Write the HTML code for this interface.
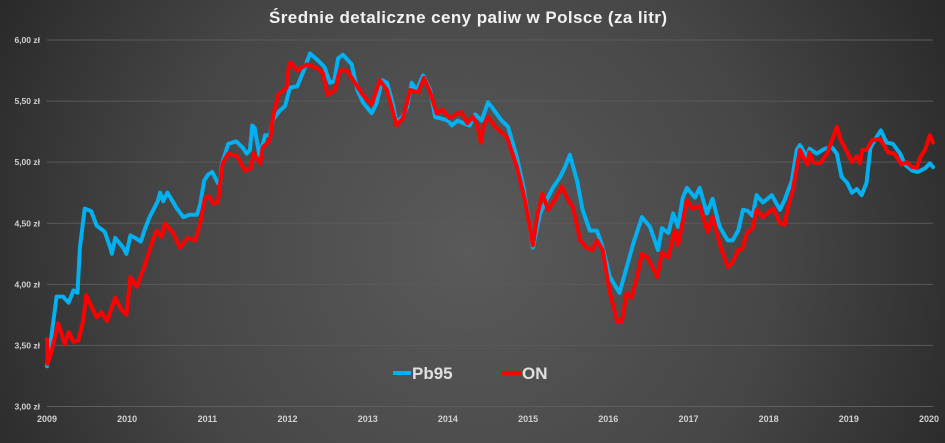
<!DOCTYPE html>
<html><head><meta charset="utf-8"><style>
html,body{margin:0;padding:0;background:#2a2a2a;}
svg{display:block;font-family:"Liberation Sans",sans-serif;}
</style></head><body>
<svg id="chart" width="945" height="443" viewBox="0 0 945 443" xmlns="http://www.w3.org/2000/svg">
<defs>
<radialGradient id="bg" cx="470" cy="250" r="560" gradientUnits="userSpaceOnUse">
<stop offset="0" stop-color="#5a5a5a"/><stop offset="0.55" stop-color="#464646"/><stop offset="1" stop-color="#262626"/>
</radialGradient>
</defs>
<rect x="0" y="0" width="945" height="443" fill="url(#bg)"/>
<text x="468" y="23" text-anchor="middle" fill="#f2f2f2" font-size="17" font-weight="bold" textLength="398" lengthAdjust="spacing">Średnie detaliczne ceny paliw w Polsce (za litr)</text>
<g id="grid"></g>
<g id="yaxis"></g>
<g id="xaxis"></g>
<g id="series"></g>
<g>
<line x1="393" y1="373" x2="411" y2="373" stroke="#00b0f0" stroke-width="4"/>
<text x="412" y="379" fill="#e0e0e0" font-size="17" font-weight="bold">Pb95</text>
<line x1="502" y1="373" x2="521" y2="373" stroke="#ff0000" stroke-width="4"/>
<text x="522" y="379" fill="#e0e0e0" font-size="17" font-weight="bold">ON</text>
</g>
</svg>
<script>
const yTicks = [3.0, 3.5, 4.0, 4.5, 5.0, 5.5, 6.0];
const yTickLabels = ["3,00 zł","3,50 zł","4,00 zł","4,50 zł","5,00 zł","5,50 zł","6,00 zł"];
const xTicks = [2009,2010,2011,2012,2013,2014,2015,2016,2017,2018,2019,2020];
const pbYears = [2009.0,2009.05,2009.12,2009.2,2009.27,2009.33,2009.38,2009.41,2009.47,2009.55,2009.62,2009.72,2009.79,2009.81,2009.85,2009.95,2009.99,2010.04,2010.1,2010.17,2010.22,2010.28,2010.38,2010.41,2010.45,2010.5,2010.53,2010.62,2010.7,2010.78,2010.87,2010.91,2010.96,2011.01,2011.06,2011.13,2011.16,2011.18,2011.26,2011.36,2011.44,2011.49,2011.53,2011.56,2011.59,2011.65,2011.72,2011.78,2011.82,2011.9,2011.97,2012.03,2012.12,2012.19,2012.28,2012.4,2012.46,2012.53,2012.58,2012.63,2012.69,2012.8,2012.87,2012.94,2013.05,2013.11,2013.18,2013.24,2013.3,2013.36,2013.43,2013.49,2013.55,2013.61,2013.69,2013.78,2013.84,2013.9,2014.0,2014.05,2014.12,2014.19,2014.27,2014.34,2014.42,2014.5,2014.56,2014.67,2014.75,2014.86,2014.94,2015.02,2015.06,2015.15,2015.23,2015.31,2015.4,2015.46,2015.52,2015.61,2015.68,2015.77,2015.86,2015.93,2016.02,2016.14,2016.23,2016.31,2016.42,2016.52,2016.62,2016.67,2016.75,2016.81,2016.87,2016.93,2016.98,2017.08,2017.14,2017.23,2017.3,2017.39,2017.49,2017.55,2017.62,2017.68,2017.74,2017.8,2017.85,2017.93,2018.04,2018.14,2018.2,2018.29,2018.35,2018.39,2018.48,2018.51,2018.6,2018.7,2018.79,2018.85,2018.91,2018.98,2019.04,2019.1,2019.16,2019.22,2019.27,2019.35,2019.4,2019.47,2019.55,2019.64,2019.7,2019.79,2019.86,2019.95,2020.01,2020.05];
const pbValues = [3.33,3.55,3.90,3.90,3.85,3.95,3.93,4.30,4.62,4.60,4.48,4.43,4.30,4.25,4.38,4.30,4.25,4.40,4.38,4.35,4.45,4.55,4.68,4.75,4.68,4.75,4.72,4.62,4.55,4.57,4.57,4.65,4.85,4.90,4.92,4.83,4.82,4.98,5.15,5.17,5.12,5.07,5.10,5.30,5.28,5.05,5.22,5.22,5.35,5.42,5.46,5.61,5.62,5.73,5.89,5.82,5.78,5.65,5.66,5.85,5.88,5.80,5.59,5.49,5.40,5.48,5.67,5.65,5.51,5.33,5.37,5.45,5.65,5.59,5.71,5.59,5.37,5.36,5.34,5.30,5.34,5.32,5.30,5.39,5.34,5.49,5.44,5.34,5.29,5.04,4.80,4.47,4.30,4.58,4.69,4.79,4.88,4.96,5.06,4.85,4.61,4.44,4.44,4.30,4.06,3.93,4.14,4.33,4.55,4.47,4.28,4.46,4.42,4.58,4.47,4.71,4.79,4.71,4.79,4.58,4.70,4.47,4.36,4.36,4.44,4.61,4.60,4.56,4.73,4.67,4.73,4.61,4.69,4.85,5.10,5.14,5.04,5.11,5.07,5.11,5.12,5.07,4.88,4.83,4.75,4.78,4.73,4.83,5.12,5.21,5.26,5.16,5.15,5.07,4.98,4.93,4.92,4.95,4.99,4.96];
const onYears = [2009.0,2009.01,2009.06,2009.14,2009.22,2009.27,2009.33,2009.39,2009.45,2009.49,2009.56,2009.62,2009.68,2009.75,2009.85,2009.93,2009.99,2010.04,2010.12,2010.2,2010.32,2010.37,2010.43,2010.47,2010.57,2010.66,2010.75,2010.85,2010.91,2010.97,2011.02,2011.07,2011.13,2011.19,2011.26,2011.37,2011.47,2011.54,2011.58,2011.66,2011.69,2011.78,2011.82,2011.88,2011.99,2012.02,2012.05,2012.12,2012.24,2012.37,2012.44,2012.5,2012.59,2012.65,2012.74,2012.84,2012.94,2013.05,2013.15,2013.24,2013.36,2013.44,2013.53,2013.63,2013.7,2013.78,2013.86,2013.93,2014.02,2014.1,2014.17,2014.24,2014.31,2014.37,2014.41,2014.44,2014.5,2014.59,2014.74,2014.86,2014.96,2015.06,2015.12,2015.18,2015.25,2015.33,2015.42,2015.5,2015.56,2015.65,2015.73,2015.8,2015.86,2015.93,2016.02,2016.11,2016.17,2016.23,2016.29,2016.36,2016.42,2016.49,2016.61,2016.67,2016.75,2016.83,2016.87,2016.98,2017.05,2017.14,2017.24,2017.3,2017.39,2017.49,2017.55,2017.62,2017.67,2017.73,2017.8,2017.85,2017.93,2018.02,2018.06,2018.14,2018.2,2018.24,2018.3,2018.39,2018.48,2018.51,2018.55,2018.64,2018.73,2018.79,2018.85,2018.9,2018.95,2019.04,2019.1,2019.14,2019.17,2019.22,2019.29,2019.39,2019.49,2019.57,2019.66,2019.72,2019.79,2019.85,2019.89,2019.95,2020.01,2020.05];
const onValues = [3.55,3.35,3.46,3.68,3.51,3.61,3.53,3.54,3.70,3.91,3.81,3.73,3.77,3.70,3.89,3.79,3.75,4.06,3.98,4.12,4.36,4.44,4.39,4.50,4.42,4.30,4.38,4.36,4.50,4.71,4.72,4.66,4.67,4.99,5.07,5.05,4.93,4.95,5.07,4.99,5.12,5.18,5.37,5.55,5.61,5.81,5.81,5.75,5.80,5.77,5.73,5.55,5.59,5.75,5.75,5.65,5.55,5.47,5.67,5.59,5.30,5.36,5.59,5.57,5.69,5.57,5.40,5.43,5.36,5.39,5.41,5.32,5.37,5.30,5.16,5.29,5.37,5.29,5.20,4.96,4.69,4.32,4.58,4.74,4.61,4.69,4.80,4.69,4.63,4.36,4.30,4.28,4.36,4.28,3.93,3.70,3.70,3.93,3.89,4.06,4.25,4.22,4.06,4.26,4.22,4.44,4.32,4.69,4.62,4.64,4.43,4.55,4.33,4.14,4.18,4.28,4.29,4.42,4.46,4.61,4.55,4.60,4.62,4.50,4.49,4.63,4.77,5.10,4.98,5.08,5.00,4.99,5.07,5.18,5.29,5.18,5.12,5.00,5.05,4.99,5.10,5.10,5.18,5.19,5.08,5.07,4.98,5.00,4.96,4.96,5.04,5.10,5.22,5.16];

const X0 = 47, X1 = 929, Y0 = 406.5, Y1 = 40;
function xScale(yr){ return X0 + (yr - 2009) / (2020 - 2009) * (X1 - X0); }
function yScale(v){ return Y0 - (v - 3) / (6 - 3) * (Y0 - Y1); }
const NS = "http://www.w3.org/2000/svg";
const grid = document.getElementById('grid');
const yaxis = document.getElementById('yaxis');
const xaxis = document.getElementById('xaxis');
const series = document.getElementById('series');

yTicks.forEach((t, i) => {
  const y = yScale(t);
  const ln = document.createElementNS(NS, 'line');
  
  
  ln.setAttribute('x1', X0); ln.setAttribute('x2', 933);
  ln.setAttribute('y1', y); ln.setAttribute('y2', y);
  ln.setAttribute('stroke', i === 0 ? '#5e5e5e' : '#5a5a5a');
  ln.setAttribute('stroke-width', '1');
  grid.appendChild(ln);
  const tx = document.createElementNS(NS, 'text');
  
  
  tx.setAttribute('x', 40); tx.setAttribute('y', y + 3);
  tx.setAttribute('text-anchor', 'end');
  tx.setAttribute('fill', '#d0d0d0');
  tx.setAttribute('font-size', '8.5');
  tx.setAttribute('font-weight', 'bold');
  tx.textContent = yTickLabels[i];
  yaxis.appendChild(tx);
});
xTicks.forEach(t => {
  const tx = document.createElementNS(NS, 'text');
  
  
  tx.setAttribute('x', xScale(t)); tx.setAttribute('y', 422);
  tx.setAttribute('text-anchor', 'middle');
  tx.setAttribute('fill', '#d0d0d0');
  tx.setAttribute('font-size', '9');
  tx.setAttribute('font-weight', 'bold');
  tx.textContent = String(t);
  xaxis.appendChild(tx);
});
function drawLine(years, vals, color, name){
  const d = years.map((yr, i) => (i ? 'L' : 'M') + xScale(yr).toFixed(1) + ' ' + yScale(vals[i]).toFixed(1)).join(' ');
  const p = document.createElementNS(NS, 'path');
  
  
  p.setAttribute('d', d);
  p.setAttribute('fill', 'none');
  p.setAttribute('stroke', color);
  p.setAttribute('stroke-width', '4');
  p.setAttribute('stroke-linejoin', 'round');
  p.setAttribute('stroke-linecap', 'round');
  series.appendChild(p);
}
drawLine(pbYears, pbValues, '#00b0f0', 'series-pb95-line');
drawLine(onYears, onValues, '#ff0000', 'series-on-line');
</script>
</body></html>
